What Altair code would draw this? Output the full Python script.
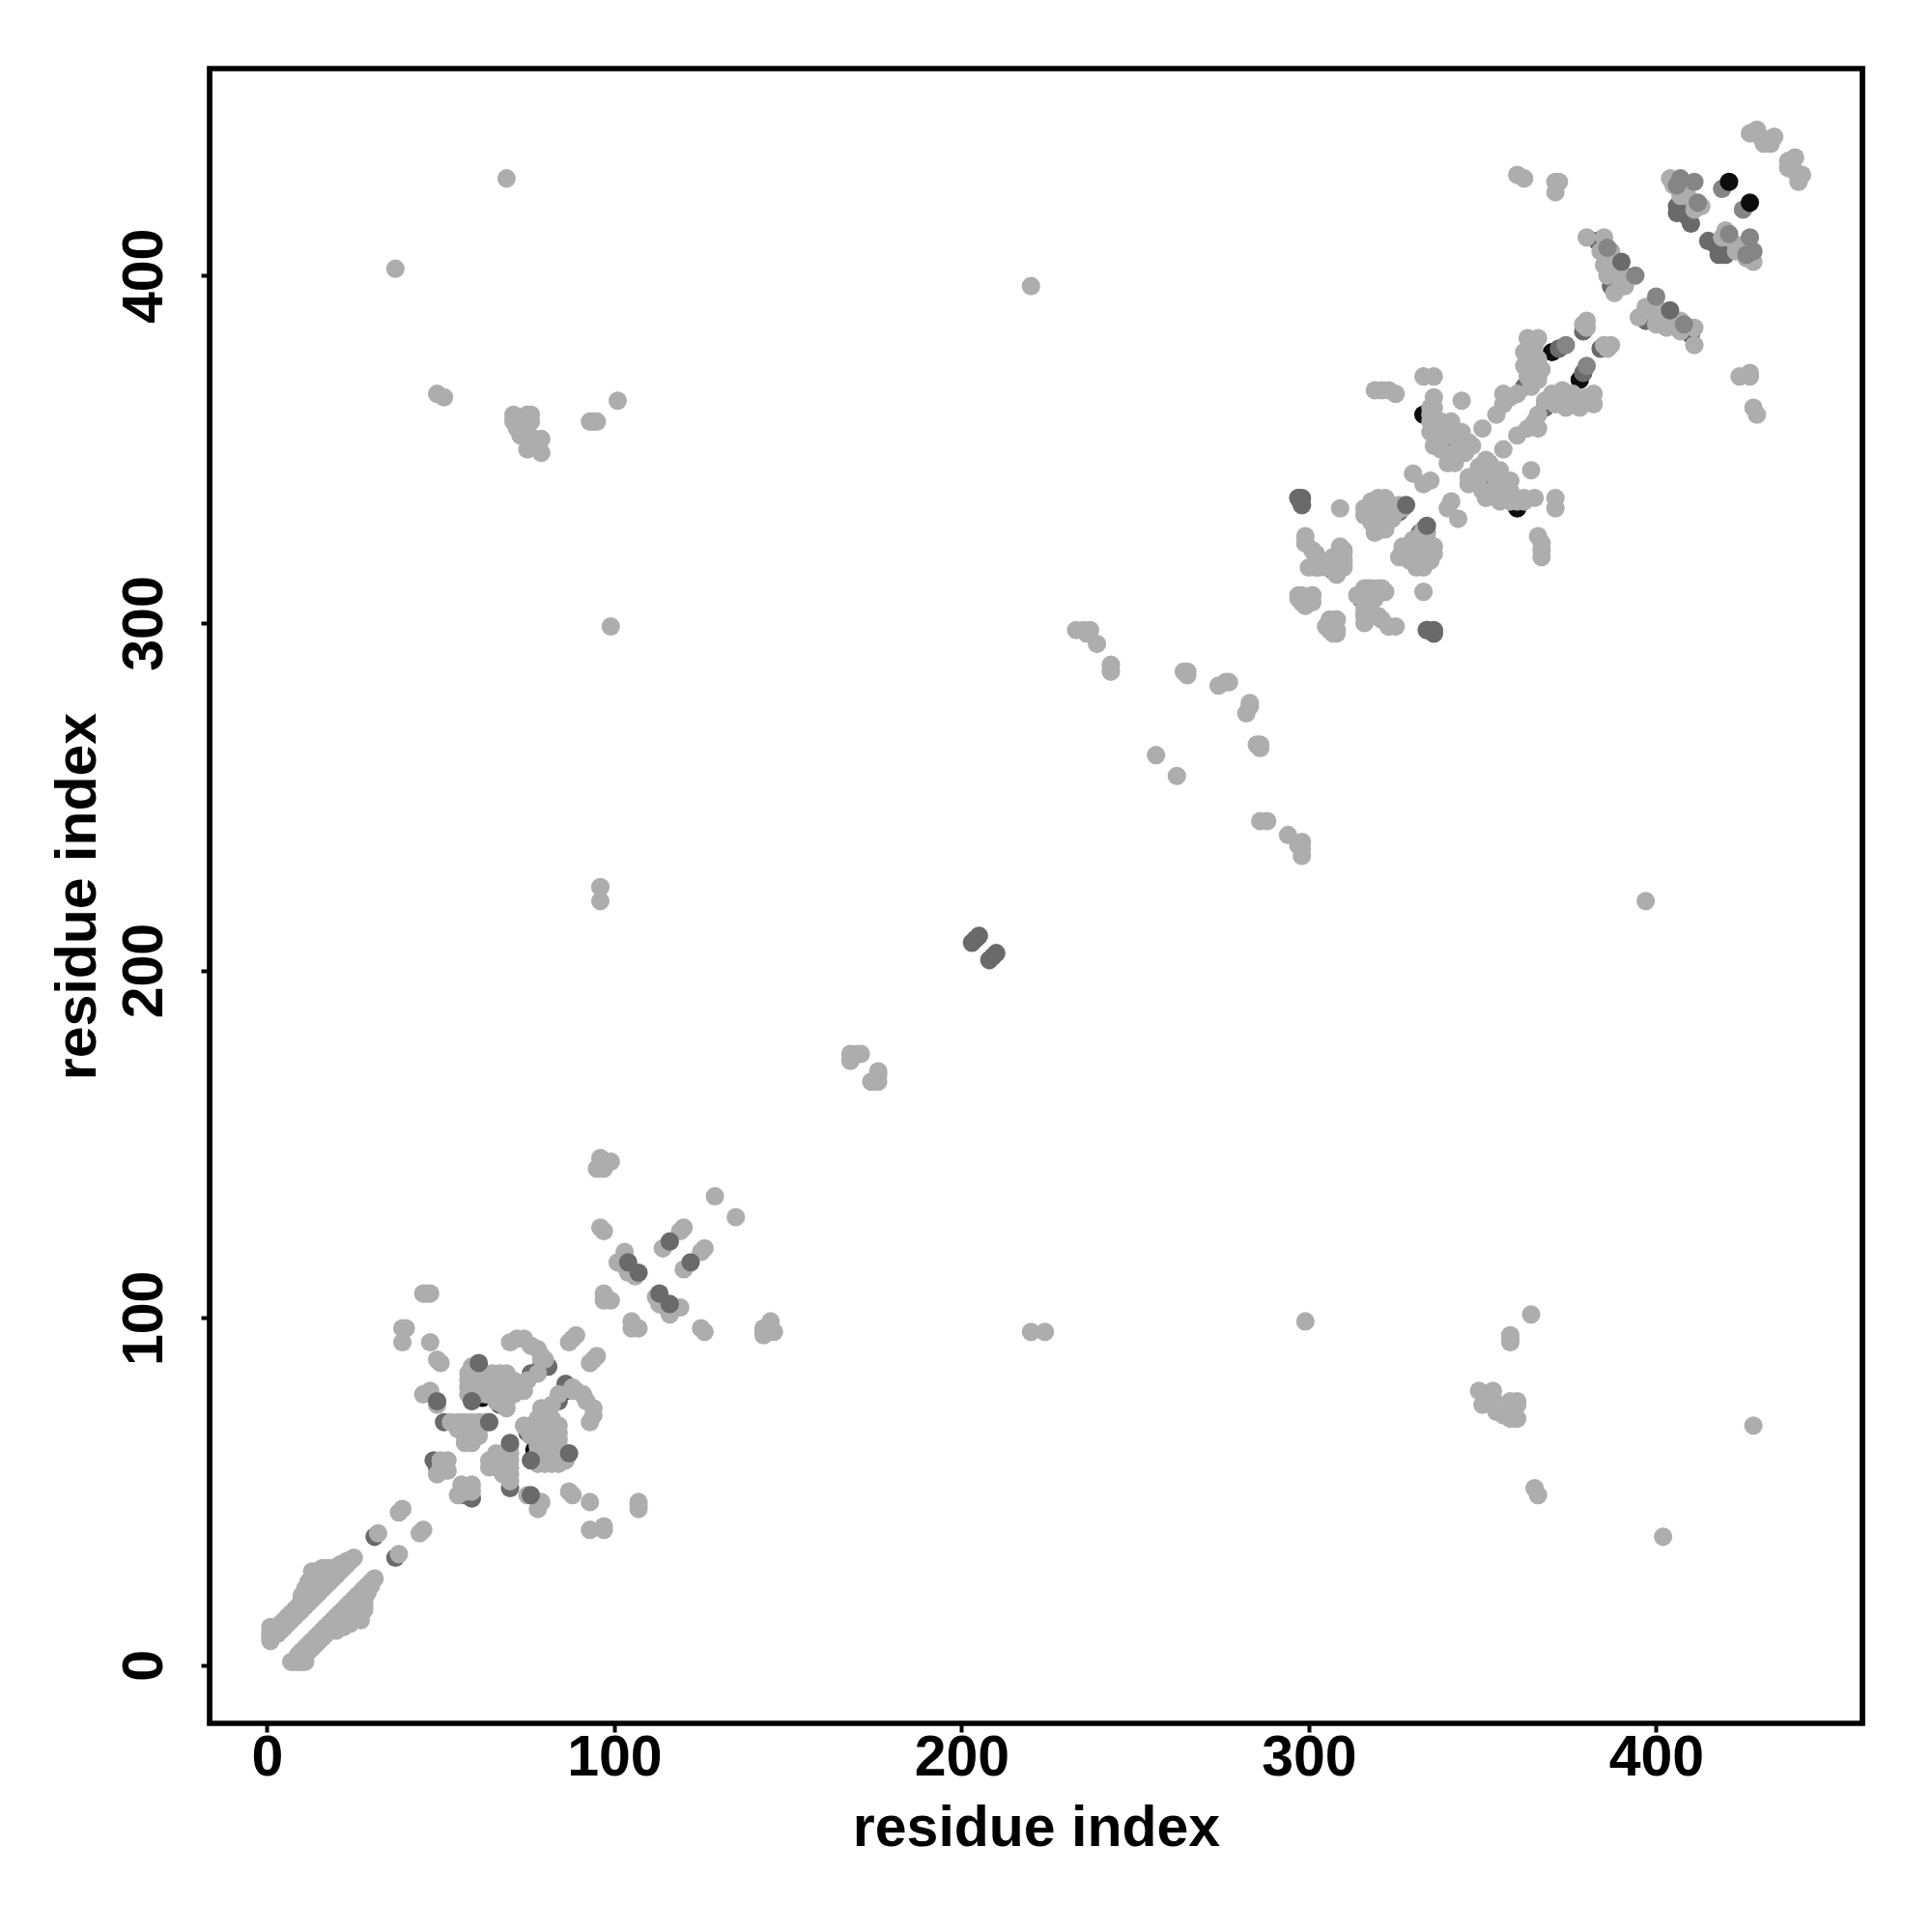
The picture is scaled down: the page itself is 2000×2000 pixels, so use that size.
import altair as alt
import pandas as pd

TICKS = [0, 100, 200, 300, 400]
GREY_LIGHT = "#adadad"
GREY_MID = "#858585"
GREY_DARK = "#6a6a6a"
GREY_BLACK = "#0c0c0c"

black_under = [(60,77),(62,77),(79,86),(333,360),(389,404),(363,373),(409,419),(370,378)]
dark_under = [(31,37),(48,59),(49,57),(51,70),(81,86),(76,84),(67,75),(323,334),(326,332),(339,350),(362,368),(307,315),
              (372,379),(379,384),(387,397),(383,410),(406,420),(406,418),(410,415),(409,417)]

light_band = [(1,7),(1,8),(1,9),(1,10),(1,11),(3,9),(3,11),(4,10),(4,12),(5,11),(5,13),(6,12),(6,14),(7,13),(7,15),
    (8,14),(8,16),(9,15),(9,17),(10,16),(10,18),(10,20),(11,17),(11,19),(11,21),(11,22),
    (12,18),(12,20),(12,22),(12,24),(13,19),(13,21),(13,23),(13,25),(13,27),(14,20),(14,22),(14,24),(14,26),(14,27),
    (15,21),(15,23),(15,25),(15,27),(16,22),(16,24),(16,26),(16,28),(17,23),(17,25),(17,27),(17,28),(18,24),(18,26),(18,28),
    (19,25),(19,27),(19,28),(20,26),(20,28),(21,27),(21,29),(22,28),(22,29),(23,29),(23,30),(24,30),(25,31)]

light_first = [(32,38),(38,44),(39,45),(45,107),(46,107),(47,107),(39,97),(40,97),(39,93),(47,93),(49,88),(50,87),(45,78),(47,79),(49,75),
    (53,70),(55,70),(57,70),(59,70),(61,70),(63,70),(55,68),(57,68),(59,68),(61,68),(57,66),(59,66),(61,66),(57,64),(59,64),
    (50,59),(51,58),(52,59),(50,57),(51,57),(49,55),(52,56),
    (58,78),(58,80),(58,82),(58,84),(59,80),(59,82),(59,84),(59,86),(61,78),(61,80),(61,82),(61,84),(63,78),(63,80),(63,82),(63,84),
    (65,78),(65,80),(65,82),(65,84),(68,75),(67,78),(67,80),(67,84),(69,74),(69,76),(69,78),(69,80),(69,82),(69,84),(71,78),(71,80),(71,82),(73,80),(74,79),(66,76),
    (70,93),(72,94),(74,94),(76,92),(78,91),(79,89),(80,88),(79,88),(78,84),(75,82),(87,93),(88,94),(89,95),
    (95,143),(96,143),(97,143),(96,146),(99,145),(97,145),(129,135),(96,126),(97,125),(120,126),(119,125),(114,120),
    (103,119),(101,116),(103,115),(104,113),(105,113),(106,112),(97,107),(97,105),(99,105)]

light_mid = [(168,174),(168,176),(170,176),(171,176),(69,428),(37,402),(49,366),(51,365),
    (71,360),(71,359),(71,358),(72,356),(73,354),(74,358),(75,360),(76,360),(76,358),(75,353),(77,353),(79,353),(75,350),(79,349),(72,357),
    (93,358),(94,358),(95,358),(101,364),(99,299),(96,224),(96,220),(220,397),
    (233,298),(235,298),(237,298),(236,297),(239,294),(243,288),(243,286),(264,286),(265,286),(265,285),(274,282),(276,283),(277,283),(256,262)]

light_cluster = [(333,371),(336,371),(319,367),(321,367),(323,367),(325,366),(336,365),(344,364),(336,362),(335,362),(335,360),(335,358),(335,355),
    (338,358),(341,358),(344,355),(346,352),(338,354),(341,354),(338,350),(340,346),(342,349),(344,350),(336,351),(347,351),(345,349),(342,346),(350,356),
    (354,360),(356,366),(360,366),(356,363),(358,365),(364,373),(363,376),(366,373),(363,382),(366,382),(364,378),(367,373),(365,370),(366,370),(364,368),(363,371),(364,371),(362,374),
    (365,375),(366,376),(364,380),(365,380),(362,378),
    (330,343),(333,340),(335,341),
    (316,331),(316,333),(318,335),(320,336),(322,336),(318,332),(320,333),(322,332),(324,334),(320,329),(322,329),(318,329),(324,330),(319,326),(321,327),(325,332),(326,334),(327,333),(322,327),(323,330),
    (299,323),(301,321),(302,319),(300,316),(303,316),(306,318),(309,322),(310,321),(309,319),(310,317),(309,316),(308,314),(305,316),
    (297,308),(301,308),(299,305),(298,306),(300,306),(297,307),(305,299),(306,301),(308,301),(306,298),(308,298),
    (309,333),(314,308),(316,310),(318,310),(320,310),(321,309),(319,307),(316,307),(317,305),(316,302),(318,302),(320,302),(323,299),(325,299)]

light_top = [(360,429),(362,428),(371,427),(372,427),(371,424),(380,411),(385,411),(384,407),(387,407),(385,403),(388,402),(386,400),(389,400),(391,400),(390,398),(388,395),(391,397),
    (380,387),(380,385),(386,379),(404,428),(405,426),(408,426),(407,423),(409,423),(413,420),(411,419),(411,421),
    (427,441),(429,442),(431,438),(430,440),(434,440),(433,438)]

dark_over = [(49,76),(61,87),(59,76),(64,70),(116,122),(104,116),(107,113),(297,336),(298,334),(328,334),(334,298),(336,298),(336,297),
             (203,208),(204,209),(205,210),(390,404)]
mid_over = [(386,408),(394,400),(374,380),(407,428),(411,427),(419,425),(412,421),(406,426)]
black_over = [(421,427)]


def both(pairs):
    return list(pairs) + [(j, i) for i, j in pairs]


groups = [
    (black_under, GREY_BLACK),
    (dark_under, GREY_DARK),
    (light_band + light_first + light_mid + light_cluster + light_top, GREY_LIGHT),
    (dark_over, GREY_DARK),
    (mid_over, GREY_MID),
    (black_over, GREY_BLACK),
]
rows = []
for pairs, shade in groups:
    for i, j in both(pairs):
        rows.append({"i": i, "j": j, "shade": shade})
df = pd.DataFrame(rows)

FONT = "Liberation Sans"
chart = (
    alt.Chart(df)
    .mark_circle(size=365, opacity=1)
    .encode(
        x=alt.X("i:Q", title="residue index",
                scale=alt.Scale(domain=[-16.5, 459.4], nice=False, zero=False),
                axis=alt.Axis(values=TICKS, grid=False, domain=False, tickSize=9, tickWidth=4, tickColor="black",
                              labelFont=FONT, labelFontSize=59, labelFontWeight="bold", labelColor="black", labelPadding=-3,
                              titleFont=FONT, titleFontSize=59, titleFontWeight="bold", titleColor="black", titlePadding=14,
                              labelFlush=False, labelOverlap=False)),
        y=alt.Y("j:Q", title="residue index",
                scale=alt.Scale(domain=[-16.7, 459.6], nice=False, zero=False),
                axis=alt.Axis(values=TICKS, grid=False, domain=False, tickSize=9, tickWidth=4, tickColor="black",
                              labelAngle=270, labelAlign="center", labelBaseline="bottom",
                              labelFont=FONT, labelFontSize=59, labelFontWeight="bold", labelColor="black", labelPadding=29,
                              titleFont=FONT, titleFontSize=59, titleFontWeight="bold", titleColor="black", titlePadding=10,
                              labelFlush=False, labelOverlap=False)),
        color=alt.Color("shade:N", scale=None),
    )
    .properties(width=1711, height=1713, padding={"left": 43, "top": 63, "right": 10, "bottom": 10})
    .configure_view(stroke="black", strokeWidth=5.7)
)
chart.save("out.html", embed_options={"renderer": "svg", "actions": False})
